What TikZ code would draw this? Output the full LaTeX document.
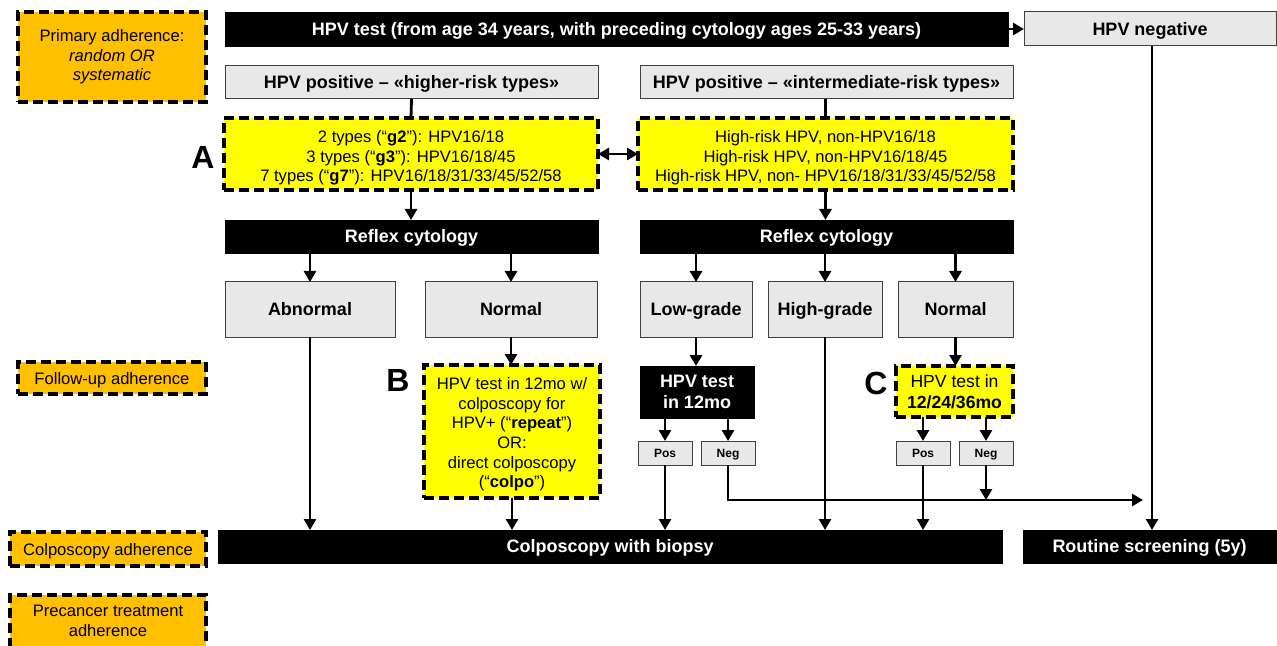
\documentclass[tikz,border=0pt]{standalone}
\usepackage{fontspec}
\setmainfont{Liberation Sans}
\usetikzlibrary{arrows.meta}
\definecolor{orangebox}{HTML}{FFC000}
\definecolor{yellowbox}{HTML}{FFFF00}
\definecolor{graybox}{HTML}{E8E8E8}
\definecolor{grayborder}{HTML}{404040}
\tikzset{
  x=0.5pt, y=-0.5pt,
  sz/.style 2 args={minimum width=#1*0.5pt, minimum height=#2*0.5pt, inner sep=0pt, outer sep=0pt},
  oneline/.style={text height=6.4pt, text depth=0pt},
  onesmall/.style={text height=4.3pt, text depth=0pt},
  onereg/.style={text height=6pt, text depth=0pt},
  blackbox/.style={fill=black, draw=black, text=white, font=\fontsize{9}{10.5}\selectfont\bfseries, align=center},
  greybox/.style={fill=graybox, draw=grayborder, line width=0.5pt, font=\fontsize{9}{10.5}\selectfont\bfseries, align=center},
  smallbox/.style={fill=graybox, draw=grayborder, line width=0.5pt, font=\fontsize{6}{7}\selectfont\bfseries, align=center, onesmall},
  yelbox/.style={fill=yellowbox, draw=black, line width=2.3pt, dash pattern=on 5pt off 2.5pt, font=\fontsize{8.3}{9.8}\selectfont, align=center},
  orbox/.style={fill=orangebox, draw=black, line width=2.3pt, dash pattern=on 5pt off 2.5pt, font=\fontsize{8.3}{9.8}\selectfont, align=center},
  plaintext/.style={font=\fontsize{8.3}{9.8}\selectfont, align=center, inner sep=0pt},
  biglabel/.style={font=\fontsize{16}{16}\selectfont\bfseries, inner sep=0pt},
  conn/.style={line width=1.4pt},
  arr/.style={line width=1.4pt, -{Triangle[length=5.5pt,width=6pt]}},
  darr/.style={line width=1.4pt, {Triangle[length=5.5pt,width=6pt]}-{Triangle[length=5.5pt,width=6pt]}},
}
\begin{document}
\begin{tikzpicture}
\useasboundingbox (0,0) rectangle (1277,646);
% left adherence boxes
\node[orbox, sz={188}{90}] (prim) at (112,57) {Primary adherence:\\\textit{random OR}\\\textit{systematic}};
\node[orbox, sz={188}{32}, onereg] (fu) at (112,378) {Follow-up adherence};
\node[orbox, sz={196}{34}, onereg] (ca) at (108,549) {Colposcopy adherence};
\node[orbox, sz={196}{60}] (pt) at (108,625) {};
\node[plaintext] (ptt) at (108,621) {Precancer treatment\\adherence};
% top row
\node[blackbox, sz={783}{34}, oneline] (test) at (616.5,29) {HPV test (from age 34 years, with preceding cytology ages 25-33 years)};
\node[greybox, sz={252}{34}, oneline] (neg) at (1150,29) {HPV negative};
\node[greybox, sz={373}{33}, oneline] (hr) at (411.5,82.5) {HPV positive -- «higher-risk types»};
\node[greybox, sz={373}{33}, oneline] (ir) at (826.5,82.5) {HPV positive -- «intermediate-risk types»};
% yellow type boxes
\node[yelbox, sz={374}{72}] (A) at (411,154) {\rule{0pt}{10pt}2 types (“\textbf{g2}”): HPV16/18\\3 types (“\textbf{g3}”): HPV16/18/45\\7 types (“\textbf{g7}”): HPV16/18/31/33/45/52/58};
\node[yelbox, sz={375}{72}] (I) at (825.5,154) {\rule{0pt}{10pt}High-risk HPV, non-HPV16/18\\High-risk HPV, non-HPV16/18/45\\High-risk HPV, non- HPV16/18/31/33/45/52/58};
\node[biglabel] (lA) at (203,157) {A};
% reflex cytology
\node[blackbox, sz={373}{33}, oneline] (rc1) at (411.5,236.5) {Reflex cytology};
\node[blackbox, sz={373}{33}, oneline] (rc2) at (826.5,236.5) {Reflex cytology};
% cytology results
\node[greybox, sz={170}{55}, oneline] (abn) at (310,309.5) {Abnormal};
\node[greybox, sz={172}{55}, oneline] (nor1) at (511,309.5) {Normal};
\node[greybox, sz={112}{55}, oneline] (low) at (696,309.5) {Low-grade};
\node[greybox, sz={114}{55}, oneline] (high) at (825,309.5) {High-grade};
\node[greybox, sz={115}{55}, oneline] (nor2) at (955.5,309.5) {Normal};
% follow-up
\node[yelbox, sz={176}{133}] (B) at (512,431.5) {\rule{0pt}{9pt}HPV test in 12mo w/\\colposcopy for\\HPV+ (“\textbf{repeat}”)\\OR:\\direct colposcopy\\(“\textbf{colpo}”)};
\node[biglabel] (lB) at (398,380) {B};
\node[blackbox, sz={114}{52}] (h12) at (697,392) {HPV test\\in 12mo};
\node[yelbox, sz={117}{51}, font=\fontsize{8.8}{10.3}\selectfont] (C) at (954.5,391.5) {HPV test in\\\textbf{12/24/36mo}};
\node[biglabel] (lC) at (876,383) {C};
\node[smallbox, sz={54}{24}] (pos1) at (665,453) {Pos};
\node[smallbox, sz={54}{24}] (neg1) at (728,453) {Neg};
\node[smallbox, sz={54}{24}] (pos2) at (923,453) {Pos};
\node[smallbox, sz={54}{24}] (neg2) at (986,453) {Neg};
% bottom
\node[blackbox, sz={784}{33}, oneline] (colpo) at (610,546.5) {Colposcopy with biopsy};
\node[blackbox, sz={253}{33}, oneline] (rout) at (1149.5,546.5) {Routine screening (5y)};
\coordinate (negend) at (1143,500);
% connectors
\draw[arr] (test.east) -- (neg.west);
\draw[conn] (hr.south) -- (A.north);
\draw[conn] (ir.south -| I.north) -- (I.north);
\draw[darr] (A.east) -- (I.west);
\draw[arr] (A.south) -- (A.south |- rc1.north);
\draw[arr] (I.south) -- (I.south |- rc2.north);
\draw[arr] (rc1.south -| abn.north) -- (abn.north);
\draw[arr] (rc1.south -| nor1.north) -- (nor1.north);
\draw[arr] (rc2.south -| low.north) -- (low.north);
\draw[arr] (rc2.south -| high.north) -- (high.north);
\draw[arr] (rc2.south -| nor2.north) -- (nor2.north);
\draw[arr] (nor1.south) -- (nor1.south |- B.north);
\draw[arr] (low.south) -- (low.south |- h12.north);
\draw[arr] (nor2.south) -- (nor2.south |- C.north);
\draw[arr] (h12.south -| pos1.north) -- (pos1.north);
\draw[arr] (h12.south -| neg1.north) -- (neg1.north);
\draw[arr] (C.south -| pos2.north) -- (pos2.north);
\draw[arr] (C.south -| neg2.north) -- (neg2.north);
\draw[arr] (abn.south) -- (abn.south |- colpo.north);
\draw[arr] (B.south) -- (B.south |- colpo.north);
\draw[arr] (pos1.south) -- (pos1.south |- colpo.north);
\draw[arr] (high.south) -- (high.south |- colpo.north);
\draw[arr] (pos2.south) -- (pos2.south |- colpo.north);
\draw[arr] (neg1.south) -- (neg1.south |- negend) -- (negend);
\draw[arr] (neg2.south) -- (neg2.south |- negend);
\draw[arr] (neg.south -| 1152,0) -- (rout.north -| 1152,0);
\end{tikzpicture}
\end{document}
